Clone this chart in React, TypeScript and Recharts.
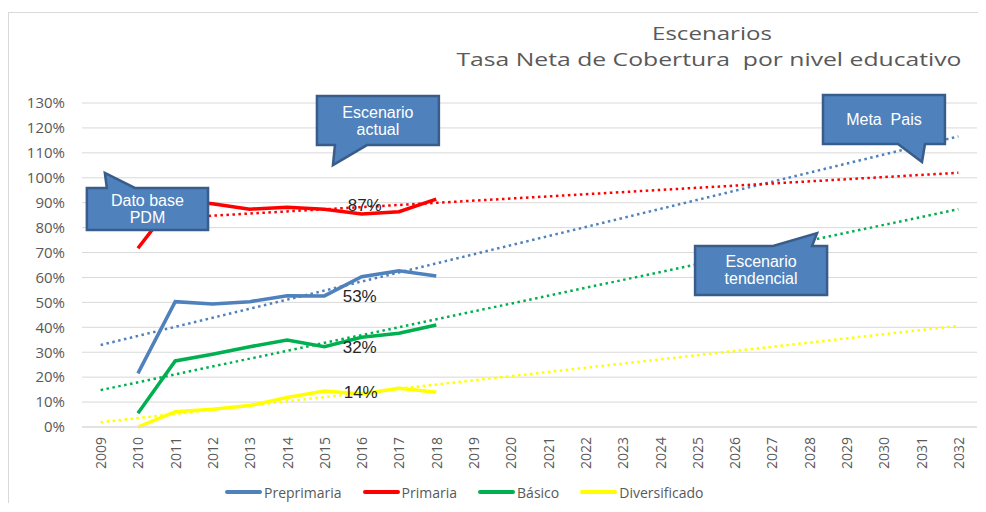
import {
  CartesianGrid,
  Legend,
  Line,
  LineChart,
  ReferenceArea,
  XAxis,
  YAxis,
} from "recharts";

// values (percent)
const years = [2010, 2011, 2012, 2013, 2014, 2015, 2016, 2017, 2018];
const preprimaria = [21.5, 50.3, 49.4, 50.3, 52.7, 52.6, 60.3, 62.7, 60.6];
const primaria = [71.7, 91.0, 89.6, 87.4, 88.2, 87.4, 85.5, 86.4, 91.4];
const basico = [5.5, 26.5, 29.2, 32.2, 34.9, 32.2, 36.0, 37.6, 40.9];
const diversificado = [0, 6.1, 7.1, 8.6, 11.8, 14.4, 13.2, 15.5, 13.9];

// dotted trend lines, start and end values
const trendYears = [2009, 2032];
const preprimariaTrend = [32.9, 116.6];
const primariaTrend = [82.2, 102.0];
const basicoTrend = [14.8, 87.4];
const diversificadoTrend = [1.9, 40.6];

const axisYears = [
  2009, 2010, 2011, 2012, 2013, 2014, 2015, 2016, 2017, 2018, 2019, 2020,
  2021, 2022, 2023, 2024, 2025, 2026, 2027, 2028, 2029, 2030, 2031, 2032,
];
const yTicks = [0, 10, 20, 30, 40, 50, 60, 70, 80, 90, 100, 110, 120, 130];

const labelYear = 2016;
const labelTexts = ["53%", "87%", "32%", "14%"];

const TEXT = "#595959";
const GRID = "#D9D9D9";

const series = [
  { key: "pre", name: "Preprimaria", color: "#4F81BD", values: preprimaria, trend: preprimariaTrend, dx: -2, dy: 25 },
  { key: "pri", name: "Primaria", color: "#FF0000", values: primaria, trend: primariaTrend, dx: 3, dy: -3 },
  { key: "bas", name: "Básico", color: "#00B050", values: basico, trend: basicoTrend, dx: -2, dy: 16 },
  { key: "div", name: "Diversificado", color: "#FFFF00", values: diversificado, trend: diversificadoTrend, dx: -1, dy: 4 },
];

const data = years.map((year, i) => {
  const row: Record<string, number> = { year };
  series.forEach((s) => {
    row[s.key] = s.values[i];
  });
  return row;
});

const trendData = (vals: number[]) =>
  trendYears.map((year, i) => ({ year, v: vals[i] }));

interface Tail {
  edge: "top" | "bottom";
  from: number;
  to: number;
  tipX: number;
  tipLen: number;
}

interface Callout {
  lines: string[];
  x1: number;
  x2: number;
  y1: number;
  y2: number;
  tail: Tail;
}

const callouts: Callout[] = [
  { lines: ["Dato base", "PDM"], x1: 2008.63, x2: 2011.88, y1: 79.0, y2: 95.9, tail: { edge: "top", from: 20, to: 48, tipX: 18, tipLen: 15 } },
  { lines: ["Escenario", "actual"], x1: 2014.8, x2: 2018.07, y1: 113.1, y2: 132.8, tail: { edge: "bottom", from: 18, to: 50, tipX: 16, tipLen: 20 } },
  { lines: ["Meta  Pais"], x1: 2028.37, x2: 2031.64, y1: 113.5, y2: 133.2, tail: { edge: "bottom", from: 75, to: 102, tipX: 99, tipLen: 18 } },
  { lines: ["Escenario", "tendencial"], x1: 2024.94, x2: 2028.48, y1: 53.0, y2: 72.6, tail: { edge: "top", from: 78, to: 117, tipX: 122, tipLen: 13 } },
];

function calloutShape(c: Callout) {
  return (props: any) => {
    const { x, y, width: w, height: h } = props;
    const t = c.tail;
    const d =
      t.edge === "top"
        ? `M${x},${y} L${x + t.from},${y} L${x + t.tipX},${y - t.tipLen} L${x + t.to},${y} L${x + w},${y} L${x + w},${y + h} L${x},${y + h} Z`
        : `M${x},${y} L${x + w},${y} L${x + w},${y + h} L${x + t.to},${y + h} L${x + t.tipX},${y + h + t.tipLen} L${x + t.from},${y + h} L${x},${y + h} Z`;
    const cx = x + w / 2;
    const cy = y + h / 2;
    return (
      <g>
        <path d={d} fill="#4F81BD" stroke="#385D8A" strokeWidth={2.5} />
        {c.lines.map((line, i) => (
          <text
            key={i}
            x={cx}
            y={cy + (i - (c.lines.length - 1) / 2) * 17}
            textAnchor="middle"
            dominantBaseline="central"
            fill="#FFFFFF"
            fontSize={16}
            fontFamily="Liberation Sans"
            style={{ whiteSpace: "pre" }}
          >
            {line}
          </text>
        ))}
      </g>
    );
  };
}

function YearTick({ x, y, payload }: any) {
  return (
    <text
      x={x}
      y={y}
      transform={`rotate(-90 ${x} ${y})`}
      textAnchor="end"
      dominantBaseline="central"
      fontFamily="Open Sans"
      fontSize={14}
      fill={TEXT}
    >
      {payload.value}
    </text>
  );
}

function pointLabel(idx: number) {
  const s = series[idx];
  const at = years.indexOf(labelYear);
  return (p: any) => {
    if (p.index !== at) return null;
    const px = p.x ?? p.viewBox?.x;
    const py = p.y ?? p.viewBox?.y;
    return (
      <text
        x={px + s.dx}
        y={py + s.dy}
        textAnchor="middle"
        fontFamily="Liberation Sans"
        fontSize={17}
        fill="#262626"
      >
        {labelTexts[idx]}
      </text>
    );
  };
}

function renderLegend() {
  return (
    <div
      style={{
        display: "flex",
        alignItems: "center",
        height: 22,
        paddingLeft: 216,
        fontFamily: "Open Sans",
        fontSize: 14,
        color: TEXT,
      }}
    >
      {series.map((s) => (
        <div key={s.key} style={{ display: "flex", alignItems: "center", marginRight: 21 }}>
          <span style={{ display: "inline-block", width: 37, height: 4, borderRadius: 2, background: s.color, marginRight: 2 }} />
          <span>{s.name}</span>
        </div>
      ))}
    </div>
  );
}

export default function App() {
  return (
    <div style={{ paddingTop: 4 }}>
      <div
        style={{
          width: 969,
          height: 490,
          borderTop: `1px solid ${GRID}`,
          borderLeft: `1px solid ${GRID}`,
        }}
      >
        <LineChart
          width={969}
          height={490}
          data={data}
          margin={{ top: 90, right: 1, bottom: 0, left: 0 }}
        >
          <text
            x={703}
            y={27}
            textAnchor="middle"
            fontFamily="Open Sans"
            fontSize={18}
            fill={TEXT}
            textLength={120}
            lengthAdjust="spacingAndGlyphs"
          >
            Escenarios
          </text>
          <text
            x={700}
            y={53}
            textAnchor="middle"
            fontFamily="Open Sans"
            fontSize={18}
            fill={TEXT}
            textLength={505}
            lengthAdjust="spacingAndGlyphs"
            style={{ whiteSpace: "pre" }}
          >
            Tasa Neta de Cobertura  por nivel educativo
          </text>
          <CartesianGrid vertical={false} stroke={GRID} />
          <XAxis
            dataKey="year"
            type="number"
            domain={[2008.5, 2032.5]}
            ticks={axisYears}
            interval={0}
            height={54}
            tick={<YearTick />}
            tickSize={0}
            tickMargin={10}
            tickLine={false}
            axisLine={{ stroke: GRID }}
          />
          <YAxis
            domain={[0, 130]}
            ticks={yTicks}
            interval={0}
            width={73}
            tickSize={0}
            tickMargin={17}
            tickLine={false}
            axisLine={false}
            tick={{ fontFamily: "Open Sans", fontSize: 15, fill: TEXT }}
            tickFormatter={(v: number) => `${v}%`}
          />
          <Legend verticalAlign="bottom" height={22} content={renderLegend} />
          {series.map((s) => (
            <Line
              key={`${s.key}-trend`}
              data={trendData(s.trend)}
              dataKey="v"
              type="linear"
              stroke={s.color}
              strokeWidth={2.5}
              strokeDasharray="2.5 3.5"
              dot={false}
              activeDot={false}
              legendType="none"
              isAnimationActive={false}
            />
          ))}
          {series.map((s, i) => (
            <Line
              key={s.key}
              dataKey={s.key}
              name={s.name}
              type="linear"
              stroke={s.color}
              strokeWidth={3.5}
              dot={false}
              label={pointLabel(i)}
              isAnimationActive={false}
            />
          ))}
          {callouts.map((c, i) => (
            <ReferenceArea
              key={i}
              x1={c.x1}
              x2={c.x2}
              y1={c.y1}
              y2={c.y2}
              ifOverflow="visible"
              zIndex={1500}
              shape={calloutShape(c)}
            />
          ))}
        </LineChart>
      </div>
    </div>
  );
}
